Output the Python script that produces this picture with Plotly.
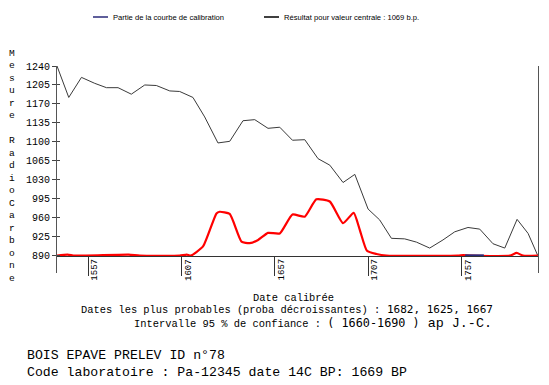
import plotly.graph_objects as go

# ---- data ----
cal_years = [1540.4, 1546.7, 1553.5, 1560.6, 1566.9, 1573.1, 1580.2, 1587.4, 1593.6, 1600.8,
             1606.1, 1613.2, 1619.5, 1626.6, 1632.9, 1640.0, 1646.3, 1653.4, 1659.7, 1666.5,
             1673.1, 1680.2, 1686.5, 1693.6, 1699.9, 1707.0, 1713.2, 1719.5, 1726.6, 1732.9,
             1740.0, 1747.1, 1753.4, 1760.5, 1766.8, 1773.9, 1780.2, 1786.8, 1792.7, 1797.9]
cal_c14 = [1240, 1182, 1219, 1208, 1200, 1200, 1188, 1205, 1204, 1194,
           1193, 1182, 1146, 1098, 1101, 1139, 1141, 1125, 1127, 1103,
           1104, 1069, 1057, 1025, 1040, 976, 956, 922, 921, 915,
           904, 919, 934, 942, 939, 912, 904, 957, 931, 890]

prob_years = [1540.4, 1546.1, 1549.9, 1578.8, 1584.7, 1606.1, 1609.9, 1612.0, 1618.6, 1625.8,
              1627.5, 1632.9, 1639.2, 1643.6, 1648.1, 1653.4, 1659.7, 1666.5, 1673.1, 1679.3,
              1686.5, 1693.6, 1699.3, 1702.6, 1706.4, 1711.5, 1716.8, 1755.0, 1758.0, 1762.0,
              1783.0, 1786.6, 1790.0, 1797.9]
prob_level = [890, 892, 890, 892, 890, 890, 892, 890, 907, 968,
              971, 967, 916, 913, 919, 932, 931, 966, 962, 994,
              990, 950, 969, 937, 899, 893, 890, 890, 891, 890,
              890, 895, 890, 890]

part_years = [1759.0, 1769.0]
part_c14 = [890.6, 890.6]

y_ticks = [890, 925, 960, 995, 1030, 1065, 1100, 1135, 1170, 1205, 1240]
x_ticks = [1557, 1607, 1657, 1707, 1757]

legend_labels = ["Partie de la courbe de calibration",
                 "Résultat pour valeur centrale : 1069 b.p."]
y_title = "Mesure RadioCarbone"
x_title = "Date calibrée"
probable_dates = "1682, 1625, 1667"
interval = "( 1660-1690 )"
era = "ap J.-C."
sample_name = "BOIS EPAVE PRELEV ID n°78"
lab_line = "Code laboratoire : Pa-12345 date 14C BP: 1669 BP"

# ---- layout geometry (pixels) ----
W, H = 549, 385
L, R, T, B = 57, 11, 66, 112
PW, PH = W - L - R, H - T - B
Y_MIN, Y_MAX = 858, 1240
X_MIN, X_MAX = 1540.4, 1798.0


def px(xp):
    return (xp - L) / PW


def py(yp):
    return (H - B - yp) / PH


MONO = "Liberation Mono"
SANS = "Liberation Sans"

fig = go.Figure()
fig.add_trace(go.Scatter(x=cal_years, y=cal_c14, mode="lines",
                         line=dict(color="#3a3a3a", width=1), showlegend=False,
                         hoverinfo="skip"))
fig.add_trace(go.Scatter(x=prob_years, y=prob_level, mode="lines",
                         line=dict(color="#ff0000", width=2.2, shape="spline", smoothing=0.5),
                         showlegend=False, hoverinfo="skip"))
fig.add_trace(go.Scatter(x=part_years, y=part_c14, mode="lines",
                         line=dict(color="#2a2a7a", width=2), showlegend=False,
                         hoverinfo="skip"))

annotations = []
# x tick labels, rotated
for t in x_ticks:
    annotations.append(dict(x=t, y=890, xref="x", yref="y", text=str(t), showarrow=False,
                            textangle=-90, xanchor="left", yanchor="top", xshift=0, yshift=-1,
                            font=dict(family=MONO, size=9, color="#000")))
# vertical stacked y title
letters = [ch if ch != " " else "\u00a0" for ch in "Mesure " + "RadioCarbone"]
annotations.append(dict(x=px(12), y=py(46), xref="paper", yref="paper",
                        text="<br>".join(letters), showarrow=False,
                        xanchor="center", yanchor="top", align="center",
                        font=dict(family=MONO, size=9.6, color="#000")))
# legend texts
annotations.append(dict(x=px(111), y=py(17), xref="paper", yref="paper", text=legend_labels[0],
                        showarrow=False, xanchor="left", yanchor="middle",
                        font=dict(family=SANS, size=7.6, color="#000")))
annotations.append(dict(x=px(282), y=py(17), xref="paper", yref="paper", text=legend_labels[1],
                        showarrow=False, xanchor="left", yanchor="middle",
                        font=dict(family=SANS, size=7.6, color="#000")))
# bottom texts
annotations.append(dict(x=px(293), y=py(298), xref="paper", yref="paper", text=x_title,
                        showarrow=False, xanchor="center", yanchor="middle",
                        font=dict(family=MONO, size=10.4, color="#000")))
big = "font-family:'DejaVu Sans Mono';font-size:11px"
big2 = "font-family:'DejaVu Sans Mono';font-size:11.8px"
big3 = "font-family:'Liberation Mono';font-size:13.4px"
annotations.append(dict(x=px(79), y=py(309.5), xref="paper", yref="paper",
                        text="Dates les plus probables (proba décroissantes) :"
                             f"<span style=\"{big}\">\u2009{probable_dates}</span>",
                        showarrow=False, xanchor="left", yanchor="middle",
                        font=dict(family=MONO, size=10.4, color="#000")))
annotations.append(dict(x=px(132), y=py(323.5), xref="paper", yref="paper",
                        text="Intervalle 95 % de confiance : "
                             f"<span style=\"{big2}\">{interval}</span>"
                             f"<span style=\"{big3}\"> {era}</span>",
                        showarrow=False, xanchor="left", yanchor="middle",
                        font=dict(family=MONO, size=10.4, color="#000")))
annotations.append(dict(x=px(25), y=py(346), xref="paper", yref="paper",
                        text=sample_name + "<br>" + lab_line,
                        showarrow=False, xanchor="left", yanchor="top", align="left",
                        font=dict(family=MONO, size=13.2, color="#000")))

shapes = [
    dict(type="line", xref="paper", yref="paper", x0=px(93), x1=px(108), y0=py(17), y1=py(17),
         line=dict(color="#2a2a7a", width=1.5)),
    dict(type="line", xref="paper", yref="paper", x0=px(264), x1=px(279), y0=py(17), y1=py(17),
         line=dict(color="#000", width=1.5)),
]

fig.update_layout(
    width=W, height=H, margin=dict(l=L, r=R, t=T, b=B, pad=0),
    paper_bgcolor="white", plot_bgcolor="white", showlegend=False,
    annotations=annotations, shapes=shapes,
    xaxis=dict(range=[X_MIN, X_MAX], anchor="free",
               position=(890 - Y_MIN) / (Y_MAX - Y_MIN),
               showgrid=False, zeroline=False, showline=True, linecolor="#333", linewidth=1,
               tickvals=x_ticks, ticks="outside", ticklen=19, tickcolor="#333", tickwidth=1,
               showticklabels=False),
    yaxis=dict(range=[Y_MIN, Y_MAX], showgrid=False, zeroline=False, showline=True,
               linecolor="#555", linewidth=1, mirror=True,
               tickvals=y_ticks, ticktext=[str(v) for v in y_ticks],
               ticks="outside", ticklen=4, tickcolor="#444", tickwidth=1,
               tickfont=dict(family=MONO, size=10, color="#000")),
    yaxis2=dict(range=[Y_MIN, Y_MAX], overlaying="y", side="left", anchor="x",
                showgrid=False, zeroline=False, showline=False,
                tickvals=y_ticks, ticks="inside", ticklen=3, tickcolor="#444",
                showticklabels=False),
)
# invisible trace to activate yaxis2
fig.add_trace(go.Scatter(x=[X_MIN], y=[Y_MIN], yaxis="y2", mode="markers",
                         marker=dict(opacity=0), showlegend=False, hoverinfo="skip"))

fig.write_html("out.html", config={"displayModeBar": False},
               post_script="document.body.style.margin='0';")
